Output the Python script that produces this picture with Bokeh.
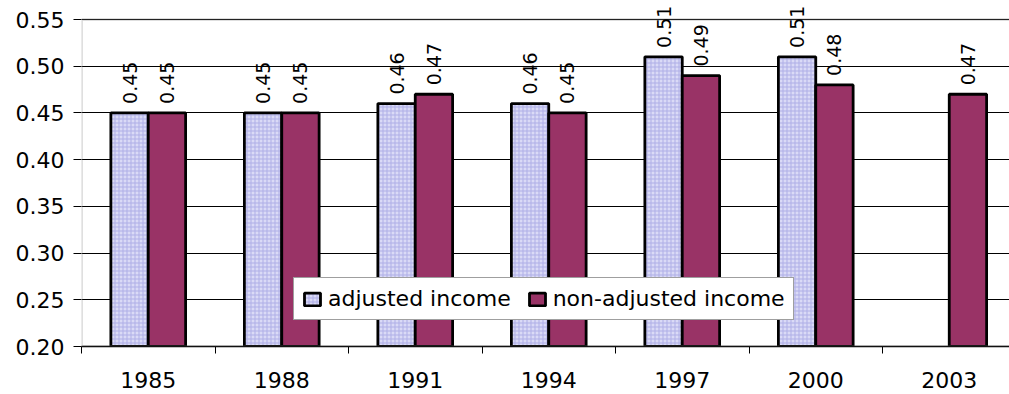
import math

from bokeh.core.properties import value
from bokeh.embed import file_html
from bokeh.resources import INLINE
from bokeh.plotting import figure
from bokeh.models import (ColumnDataSource, Range1d, FixedTicker, PrintfTickFormatter,
                          LabelSet, BoxAnnotation, Legend)

# Survey years and index values for the two income definitions
years = ["1985", "1988", "1991", "1994", "1997", "2000", "2003"]
adjusted = [0.45, 0.45, 0.46, 0.46, 0.51, 0.51, None]
non_adjusted = [0.45, 0.45, 0.47, 0.45, 0.49, 0.48, 0.47]
y_ticks = [0.20, 0.25, 0.30, 0.35, 0.40, 0.45, 0.50, 0.55]

FONT = "DejaVu Sans"
BAR_W = 0.28
ADJ_COLOR = "#DADAF6"
NONADJ_COLOR = "#993366"

W, H = 1009, 394
LEFT, BOTTOM = 81, 48
CAT_PX = 133.5     # pixel width of one year slot
HEADROOM_PX = 19   # space above the top gridline for the value labels

frame_h = H - BOTTOM
y_span = y_ticks[-1] - y_ticks[0]
y_top = y_ticks[-1] + HEADROOM_PX * y_span / (frame_h - HEADROOM_PX)

centers = [i + 0.5 for i in range(len(years))]
adj_idx = [i for i, v in enumerate(adjusted) if v is not None]
adj_src = ColumnDataSource(dict(
    x=[centers[i] - BAR_W / 2 for i in adj_idx],
    top=[adjusted[i] for i in adj_idx],
    text=["%.2f" % adjusted[i] for i in adj_idx],
))
non_src = ColumnDataSource(dict(
    x=[c + BAR_W / 2 for c in centers],
    top=non_adjusted,
    text=["%.2f" % v for v in non_adjusted],
))

p = figure(width=W, height=H, output_backend="svg", toolbar_location=None,
           x_range=Range1d(0, (W - LEFT) / CAT_PX),
           y_range=Range1d(y_ticks[0], y_top),
           min_border_left=LEFT, min_border_right=0,
           min_border_top=0, min_border_bottom=BOTTOM)
p.outline_line_color = None
p.background_fill_color = "white"
p.border_fill_color = "white"

# Plot-area border: left edge and top edge (right edge lies past the canvas)
p.add_layout(BoxAnnotation(left=0, right=10, bottom=y_ticks[0], top=y_ticks[-1],
                           fill_alpha=0, line_color="#707070", line_width=2.5))

r_adj = p.vbar(x="x", top="top", bottom=y_ticks[0], width=BAR_W, source=adj_src,
               fill_color=ADJ_COLOR, line_color="black", line_width=2.8,
               hatch_pattern="+", hatch_color="#AEAEE6", hatch_scale=4, hatch_weight=1)
r_non = p.vbar(x="x", top="top", bottom=y_ticks[0], width=BAR_W, source=non_src,
               fill_color=NONADJ_COLOR, line_color="black", line_width=2.8)

# Value labels above the bars, rotated to read upwards
for src in (adj_src, non_src):
    p.add_layout(LabelSet(x="x", y="top", text="text", source=src,
                          angle=math.pi / 2, text_align="left", text_baseline="middle",
                          y_offset=9, text_font=value(FONT), text_font_size=value("19px"),
                          text_color="black"))

# Y axis
yax = p.yaxis[0]
yax.ticker = FixedTicker(ticks=y_ticks)
yax.formatter = PrintfTickFormatter(format="%.2f")
yax.major_label_text_font = FONT
yax.major_label_text_font_size = "22px"
yax.major_label_text_color = "black"
yax.major_tick_out = 8
yax.major_tick_in = 0
yax.major_tick_line_color = "black"
yax.minor_tick_line_color = None
yax.axis_line_color = None
yax.major_label_standoff = 9

# X axis: year labels centred in slots, tick marks between slots
xax = p.xaxis[0]
xax.ticker = FixedTicker(ticks=centers, minor_ticks=list(range(len(years) + 1)))
xax.major_label_overrides = {c: y for c, y in zip(centers, years)}
xax.major_label_text_font = FONT
xax.major_label_text_font_size = "22px"
xax.major_label_text_color = "black"
xax.major_tick_line_color = None
xax.major_tick_out = 0
xax.major_tick_in = 0
xax.minor_tick_line_color = "black"
xax.minor_tick_out = 7
xax.minor_tick_in = 0
xax.axis_line_color = "black"
xax.axis_line_width = 1.5
xax.major_label_standoff = 18

p.xgrid.grid_line_color = None
p.ygrid.grid_line_color = "black"
p.ygrid.grid_line_width = 1

legend = Legend(items=[("adjusted income", [r_adj]), ("non-adjusted income", [r_non])],
                location=(212, 26), orientation="horizontal")
legend.label_text_font = FONT
legend.label_text_font_size = "22px"
legend.label_text_color = "black"
legend.glyph_width = 20
legend.glyph_height = 16
legend.label_standoff = 6
legend.spacing = 16
legend.padding = 8
legend.margin = 0
legend.border_line_color = "#404040"
legend.border_line_width = 1
legend.background_fill_color = "white"
legend.background_fill_alpha = 1
p.add_layout(legend)

open("out.html", "w").write(file_html(p, INLINE))
